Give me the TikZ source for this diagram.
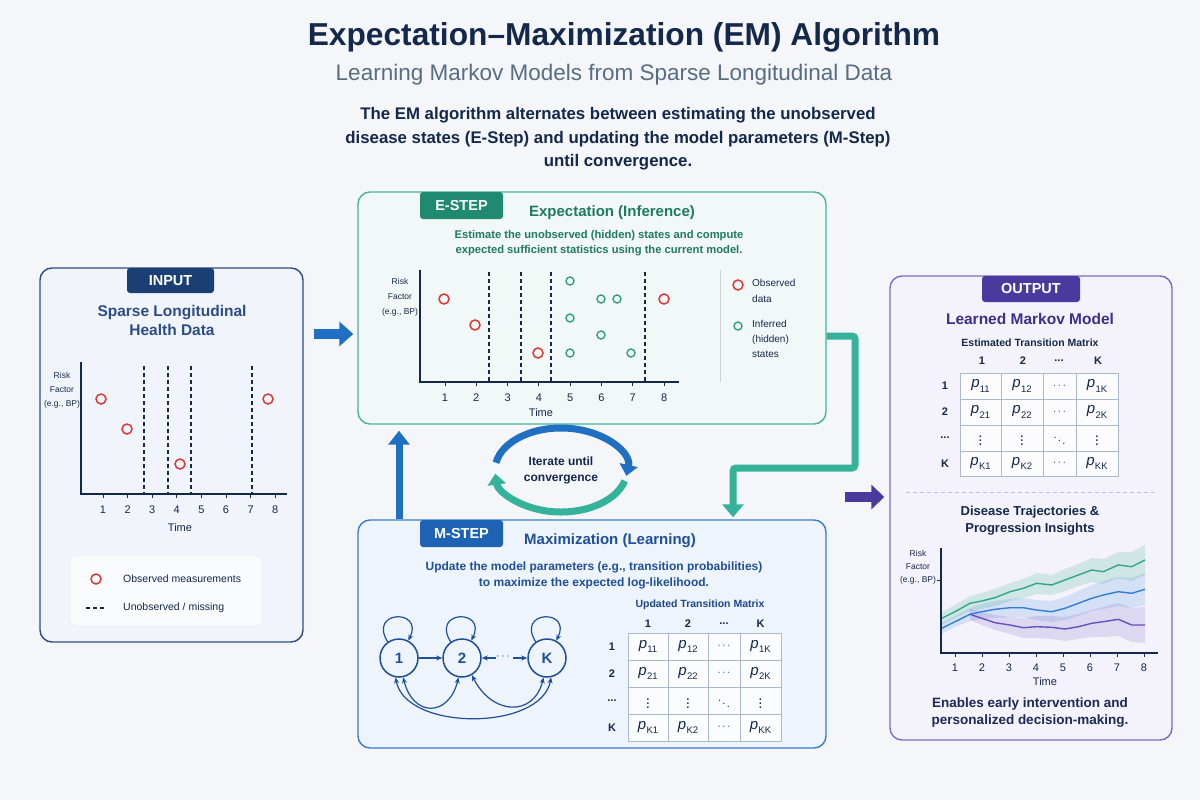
\documentclass[tikz,border=0pt]{standalone}
\usepackage{fontspec}
\setmainfont{Liberation Sans}
\setsansfont{Liberation Sans}
\usetikzlibrary{arrows.meta,calc}
\definecolor{bg}{RGB}{244,246,249}
\definecolor{navy}{RGB}{20,40,75}
\definecolor{subgray}{RGB}{88,108,132}
\definecolor{inborder}{RGB}{45,76,134}
\definecolor{intab}{RGB}{28,63,115}
\definecolor{infill}{RGB}{241,245,251}
\definecolor{tealb}{RGB}{73,179,155}
\definecolor{tealtab}{RGB}{31,138,112}
\definecolor{tealtxt}{RGB}{31,122,99}
\definecolor{tealfill}{RGB}{241,248,247}
\definecolor{blueb}{RGB}{58,124,201}
\definecolor{bluetab}{RGB}{30,99,179}
\definecolor{bluetxt}{RGB}{31,78,154}
\definecolor{bluefill}{RGB}{238,244,251}
\definecolor{purb}{RGB}{122,108,196}
\definecolor{purtab}{RGB}{75,58,158}
\definecolor{purtxt}{RGB}{61,46,140}
\definecolor{purfill}{RGB}{244,243,251}
\definecolor{redc}{RGB}{217,58,58}
\definecolor{tealc}{RGB}{46,158,134}
\definecolor{arblue}{RGB}{31,111,194}
\definecolor{arteal}{RGB}{53,179,154}
\definecolor{arpur}{RGB}{75,58,158}
\definecolor{gridc}{RGB}{170,185,205}
\definecolor{trteal}{RGB}{47,168,134}
\definecolor{trblue}{RGB}{47,127,216}
\definecolor{trpur}{RGB}{106,79,192}
\newcommand\fs[2]{\fontsize{#1}{#2}\selectfont}
\newcommand\pe[1]{\textit{p}\kern0.3pt\raisebox{-0.28em}{\fontsize{9.5}{9.5}\selectfont #1}}
\newcommand\ldt{...}
\tikzset{
  panel/.style={draw, line width=1.4, rounded corners=12, inner sep=0},
  tabbox/.style={rounded corners=3, text=white, font=\fs{14.5}{17}\bfseries, inner sep=0},
  axis/.style={line width=1.2, navy},
  tick/.style={font=\fs{11}{12}, text=navy, inner sep=0},
  small/.style={font=\fs{8.5}{14}, text=navy, align=center, inner sep=0},
  miss/.style={dashed, dash pattern=on 4pt off 3pt, line width=1.2, navy},
  obs/.style={draw=redc, line width=1.5},
  inf/.style={draw=tealc, line width=1.4},
  cell/.style={font=\fs{15}{15}, text=navy, inner sep=0},
  hdr/.style={font=\fs{11}{12}\bfseries, text=navy, inner sep=0},
  state/.style={circle, draw=bluetxt, line width=1.5, minimum size=38, inner sep=0, fill=bluefill, font=\fs{15}{15}\bfseries, text=bluetxt},
  sarr/.style={line width=1.2, bluetxt, -{Stealth[length=6pt,width=5pt]}},
}
\begin{document}
\begin{tikzpicture}[x=1pt,y=-1pt]
\useasboundingbox (0,0) rectangle (1200,800);
\fill[bg] (0,0) rectangle (1200,800);

% titles
\node[font=\fs{31.7}{36}\bfseries, text=navy] (title) at (624,37) {Expectation–Maximization (EM) Algorithm};
\node[font=\fs{22.5}{26}, text=subgray] (subtitle) at (614,75) {Learning Markov Models from Sparse Longitudinal Data};
\node[font=\fs{16.8}{23.5}\bfseries, text=navy, align=center] (desc) at (618,139) {The EM algorithm alternates between estimating the unobserved\\disease states (E-Step) and updating the model parameters (M-Step)\\until convergence.};

% ================= INPUT panel
\node[panel, draw=inborder, fill=infill, minimum width=263, minimum height=374] (input) at (171.5,455) {};
\node[tabbox, fill=intab, minimum width=87, minimum height=25] (intabn) at (170.5,280.5) {INPUT};
\node[font=\fs{15.5}{19.5}\bfseries, text=inborder, align=center] (inhead) at (172,320.5) {Sparse Longitudinal\\Health Data};
\draw[axis] (81,362) -- (81,494) -- (287,494);
\foreach \i in {1,...,8} {
  \pgfmathsetmacro\xx{103+(\i-1)*24.6}
  \draw[axis, line width=0.9] (\xx,494) -- (\xx,498);
  \node[tick] (int\i) at (\xx,510) {\i};
}
\node[tick] (intime) at (180,528) {Time};
\node[small] (inrisk) at (62,390) {Risk\\Factor\\(e.g., BP)};
\foreach \x in {144,168,191,252} \draw[miss] (\x,366) -- (\x,494);
\foreach \x/\y in {101/399,127/429,180/464,268/399} \draw[obs] (\x,\y) circle[radius=5];
\node[draw=black!10, fill=white!60!infill, rounded corners=6, minimum width=192, minimum height=70, inner sep=0] (inleg) at (166,591) {};
\draw[obs] (96,579) circle[radius=5];
\node[anchor=west, font=\fs{10.5}{12}, text=navy, inner sep=0] (inleg1) at (123,579) {Observed measurements};
\draw[miss] (86,608) -- (106,608);
\node[anchor=west, font=\fs{10.5}{12}, text=navy, inner sep=0] (inleg2) at (123,608) {Unobserved / missing};

% ================= E-STEP panel
\node[panel, draw=tealb, fill=tealfill, minimum width=468, minimum height=232] (estep) at (592,308) {};
\node[tabbox, fill=tealtab, minimum width=83, minimum height=27] (etab) at (461.5,205.5) {E-STEP};
\node[font=\fs{15}{18}\bfseries, text=tealtxt] (ehead) at (612,213) {Expectation (Inference)};
\node[font=\fs{11.2}{15}\bfseries, text=tealtxt, align=center] (edesc) at (599,243) {Estimate the unobserved (hidden) states and compute\\expected sufficient statistics using the current model.};
\draw[axis] (420,270) -- (420,382) -- (679,382);
\foreach \i in {1,...,8} {
  \pgfmathsetmacro\xx{445+(\i-1)*31.3}
  \draw[axis, line width=0.9] (\xx,382) -- (\xx,386);
  \node[tick] (et\i) at (\xx,398) {\i};
}
\node[tick] (etime) at (541,413) {Time};
\node[small, font=\fs{8.5}{15}] (erisk) at (400,297) {Risk\\Factor\\(e.g., BP)};
\foreach \x in {489,521,551,645} \draw[miss] (\x,272) -- (\x,382);
\foreach \x/\y in {444/299,475/325,538/353,664/299} \draw[obs] (\x,\y) circle[radius=5];
\foreach \x/\y in {570/281,601/299,617/299,570/318,601/335,570/353,631/353} \draw[inf] (\x,\y) circle[radius=4];
\draw[black!18, line width=0.8] (720,270) -- (720,382);
\draw[obs] (738,285) circle[radius=5];
\node[anchor=north west, font=\fs{10}{16}, text=navy, align=left, inner sep=0] (eleg1) at (752,279) {Observed\\data};
\draw[inf] (738,326) circle[radius=4];
\node[anchor=north west, font=\fs{10}{15}, text=navy, align=left, inner sep=0] (eleg2) at (752,320) {Inferred\\(hidden)\\states};

% ================= M-STEP panel
\node[panel, draw=blueb, fill=bluefill, minimum width=468, minimum height=228] (mstep) at (592,634) {};
\node[tabbox, fill=bluetab, minimum width=83, minimum height=27] (mtab) at (461.5,533.5) {M-STEP};
\node[font=\fs{15}{18}\bfseries, text=bluetxt] (mhead) at (610,541) {Maximization (Learning)};
\node[font=\fs{12}{16}\bfseries, text=bluetxt, align=center] (mdesc) at (594,575) {Update the model parameters (e.g., transition probabilities)\\to maximize the expected log-likelihood.};
% state diagram
\node[state] (s1) at (399,658) {1};
\node[state] (s2) at (462,658) {2};
\node[state] (sK) at (547,658) {K};
\foreach \n in {s1,s2,sK}
  \draw[sarr] (\n.125) .. controls +(-20,-32) and +(16,-32) .. (\n.62);
\draw[sarr] (s1.east) -- (s2.west);
\draw[sarr] ($(s2.east)+(14,0)$) -- (s2.east);
\node[font=\fs{12}{12}, text=bluetxt, inner sep=0] (sdots) at (503,657) {$\cdots$};
\draw[sarr] ($(sK.west)+(-14,0)$) -- (sK.west);
\draw[line width=1.2, bluetxt, {Stealth[length=6pt,width=5pt]}-{Stealth[length=6pt,width=5pt]}] (s1.-78) .. controls +(10,40) and +(-10,40) .. (s2.-100);
\draw[line width=1.2, bluetxt, {Stealth[length=6pt,width=5pt]}-{Stealth[length=6pt,width=5pt]}] (s1.-100) .. controls +(10,54) and +(-10,54) .. (sK.-78);
\draw[line width=1.2, bluetxt, {Stealth[length=6pt,width=5pt]}-{Stealth[length=6pt,width=5pt]}] (s2.-60) .. controls +(20,40) and +(-10,40) .. (sK.-100);
% matrix
\node[font=\fs{10.5}{12}\bfseries, text=bluetxt!80!navy] (mmt) at (700,605) {Updated Transition Matrix};
\fill[white!70!bluefill] (628,633) rectangle (781,741);
\draw[gridc, line width=0.9] (628,633) rectangle (781,741);
\foreach \x in {668,708,740} \draw[gridc, line width=0.9] (\x,633) -- (\x,741);
\foreach \y in {660,687,714} \draw[gridc, line width=0.9] (628,\y) -- (781,\y);
\foreach \x/\l [count=\i] in {648/1,688/2,724/\ldt,760.5/K} \node[hdr] (mc\i) at (\x,624) {\l};
\foreach \y/\l [count=\i] in {646.5/1,673.5/2,700.5/\ldt,727.5/K} \node[hdr] (mr\i) at (612,\y) {\l};
\foreach \y/\a/\b/\c/\d [count=\i] in {646.5/\pe{11}/\pe{12}/$\cdots$/\pe{1K},673.5/\pe{21}/\pe{22}/$\cdots$/\pe{2K},700.5/$\vdots$/$\vdots$/$\ddots$/$\vdots$,727.5/\pe{K1}/\pe{K2}/$\cdots$/\pe{KK}} {
  \node[cell] (ma\i) at (648,\y) {\a};
  \node[cell] (mb\i) at (688,\y) {\b};
  \node[cell, font=\fs{11}{11}] (mcc\i) at (724,\y) {\c};
  \node[cell] (md\i) at (760.5,\y) {\d};
}

% ================= OUTPUT panel
\node[panel, draw=purb, fill=purfill, minimum width=282, minimum height=464] (output) at (1031,508) {};
\node[tabbox, fill=purtab, minimum width=98, minimum height=26] (otab) at (1031,289) {OUTPUT};
\node[font=\fs{15.5}{18}\bfseries, text=purtxt] (ohead) at (1030,319) {Learned Markov Model};
\node[font=\fs{10.5}{12}\bfseries, text=navy] (omt) at (1030,343) {Estimated Transition Matrix};
\fill[white!70!purfill] (960,373) rectangle (1118,476);
\draw[gridc, line width=0.9] (960,373) rectangle (1118,476);
\foreach \x in {1001,1043,1076} \draw[gridc, line width=0.9] (\x,373) -- (\x,476);
\foreach \y in {399,425,451} \draw[gridc, line width=0.9] (960,\y) -- (1118,\y);
\foreach \x/\l [count=\i] in {982/1,1023/2,1059/\ldt,1098/K} \node[hdr] (oc\i) at (\x,361) {\l};
\foreach \y/\l [count=\i] in {386/1,412/2,438/\ldt,463.5/K} \node[hdr] (or\i) at (945,\y) {\l};
\foreach \y/\a/\b/\c/\d [count=\i] in {386/\pe{11}/\pe{12}/$\cdots$/\pe{1K},412/\pe{21}/\pe{22}/$\cdots$/\pe{2K},438/$\vdots$/$\vdots$/$\ddots$/$\vdots$,463.5/\pe{K1}/\pe{K2}/$\cdots$/\pe{KK}} {
  \node[cell] (oa\i) at (980.5,\y) {\a};
  \node[cell] (ob\i) at (1022,\y) {\b};
  \node[cell, font=\fs{11}{11}] (occ\i) at (1059.5,\y) {\c};
  \node[cell] (od\i) at (1097,\y) {\d};
}
\draw[purb!45, dashed, dash pattern=on 4pt off 3pt, line width=0.9] (906,492) -- (1158,492);
\node[font=\fs{13}{17}\bfseries, text=navy, align=center] (otraj) at (1030,520.5) {Disease Trajectories \&\\Progression Insights};
% trajectory plot
\fill[trteal, opacity=0.18] (941.7,612) -- (955,605) -- (970,596) -- (981.7,593) -- (995,589) -- (1010,583) -- (1023.3,579) -- (1036.7,573) -- (1051.7,575) -- (1065,569) -- (1078.3,564) -- (1091.7,558) -- (1103.3,559) -- (1118.3,552) -- (1131.7,552) -- (1145,545) -- (1145,575) -- (1131.7,581) -- (1118.3,578) -- (1103.3,584) -- (1091.7,582) -- (1078.3,586) -- (1065,591) -- (1051.7,595) -- (1036.7,594) -- (1023.3,598) -- (1010,601) -- (995,606) -- (981.7,609) -- (970,611) -- (955,618) -- (941.7,625) -- cycle;
\fill[trblue, opacity=0.16] (941.7,623) -- (955,616) -- (970,608) -- (981.7,604) -- (995,601) -- (1010,599) -- (1023.3,598) -- (1036.7,600) -- (1051.7,601) -- (1065,597) -- (1078.3,591) -- (1091.7,585) -- (1103.3,581) -- (1118.3,577) -- (1131.7,578) -- (1145,573) -- (1145,605) -- (1131.7,608) -- (1118.3,606) -- (1103.3,609) -- (1091.7,611) -- (1078.3,616) -- (1065,620) -- (1051.7,622) -- (1036.7,620) -- (1023.3,617) -- (1010,617) -- (995,618) -- (981.7,619) -- (970,621) -- (955,627) -- (941.7,634) -- cycle;
\fill[trpur, opacity=0.16] (970,609) -- (981.7,612) -- (995,615) -- (1010,617) -- (1023.3,618) -- (1036.7,616) -- (1051.7,616) -- (1065,617) -- (1078.3,614) -- (1091.7,610) -- (1103.3,607) -- (1118.3,603) -- (1131.7,608) -- (1145,607) -- (1145,643) -- (1131.7,642) -- (1118.3,636) -- (1103.3,637) -- (1091.7,637) -- (1078.3,639) -- (1065,641) -- (1051.7,639) -- (1036.7,638) -- (1023.3,638) -- (1010,634) -- (995,630) -- (981.7,625) -- (970,620) -- cycle;
\draw[trteal, line width=1.4, line join=round] (941.7,618.3) -- (955,611.7) -- (970,603.3) -- (981.7,601) -- (995,597.7) -- (1010,591.7) -- (1023.3,588.3) -- (1036.7,583.3) -- (1051.7,585) -- (1065,580) -- (1078.3,575) -- (1091.7,570) -- (1103.3,571.7) -- (1118.3,565) -- (1131.7,566.7) -- (1145,560);
\draw[trblue, line width=1.4, line join=round] (941.7,628.3) -- (955,621.7) -- (970,614.3) -- (981.7,611.7) -- (995,609.3) -- (1010,607.7) -- (1023.3,607.7) -- (1036.7,610) -- (1051.7,611.7) -- (1065,608.3) -- (1078.3,603.3) -- (1091.7,598.3) -- (1103.3,595) -- (1118.3,591.7) -- (1131.7,593.3) -- (1145,589.3);
\draw[trpur, line width=1.4, line join=round] (970,614.3) -- (981.7,618.3) -- (995,622.7) -- (1010,625) -- (1023.3,627.7) -- (1036.7,626.7) -- (1051.7,627.3) -- (1065,629) -- (1078.3,626.7) -- (1091.7,623.3) -- (1103.3,621.7) -- (1118.3,619.3) -- (1131.7,625) -- (1145,625);
\draw[axis] (941,548) -- (941,653) -- (1158,653);
\draw[axis, line width=0.9] (937,580) -- (941,580);
\foreach \i in {1,...,8} {
  \pgfmathsetmacro\xx{955+(\i-1)*27}
  \draw[axis, line width=0.9] (\xx,653) -- (\xx,657);
  \node[tick] (ot\i) at (\xx,668) {\i};
}
\node[tick] (otime) at (1045,682) {Time};
\node[small, font=\fs{8.5}{13}] (orisk) at (918,567) {Risk\\Factor\\(e.g., BP)};
\node[font=\fs{13.5}{17}\bfseries, text=navy!80!purtxt, align=center] (oend) at (1030,712.5) {Enables early intervention and\\personalized decision-making.};

% ================= connectors
\draw[arblue, line width=10, -{Triangle[width=24pt,length=14pt]}] (input.east |- 0,334) ++(10,0) -- ($(estep.west |- 0,334)+(-4,0)$);
\draw[arblue, line width=7, -{Triangle[width=21pt,length=14pt]}] (mstep.north -| 399,0) -- ($(estep.south -| 399,0)+(0,6)$);
\draw[arteal, line width=7, rounded corners=3, -{Triangle[width=21pt,length=13pt]}] (estep.east |- 0,336) -- (855,336) -- (855,468) -- (733,468) -- ($(mstep.north -| 733,0)+(0,-2)$);
\coordinate (pstart) at (845,497);
\draw[arpur, line width=10, -{Triangle[width=24pt,length=13pt]}] (pstart) -- ($(output.west |- pstart)+(-5,0)$);
% iterate loop
\coordinate (loopc) at (561,470);
\draw[arblue, line width=7, -{Triangle[width=18pt,length=11pt]}] ($(loopc)+(190:66 and 42)$) arc[start angle=190, end angle=368, x radius=66, y radius=42];
\draw[arteal, line width=7, -{Triangle[width=18pt,length=11pt]}] ($(loopc)+(15:66 and 42)$) arc[start angle=15, end angle=175, x radius=66, y radius=42];
\node[font=\fs{12}{16}\bfseries, text=navy, align=center] (iter) at (loopc) {Iterate until\\convergence};
\end{tikzpicture}
\end{document}
